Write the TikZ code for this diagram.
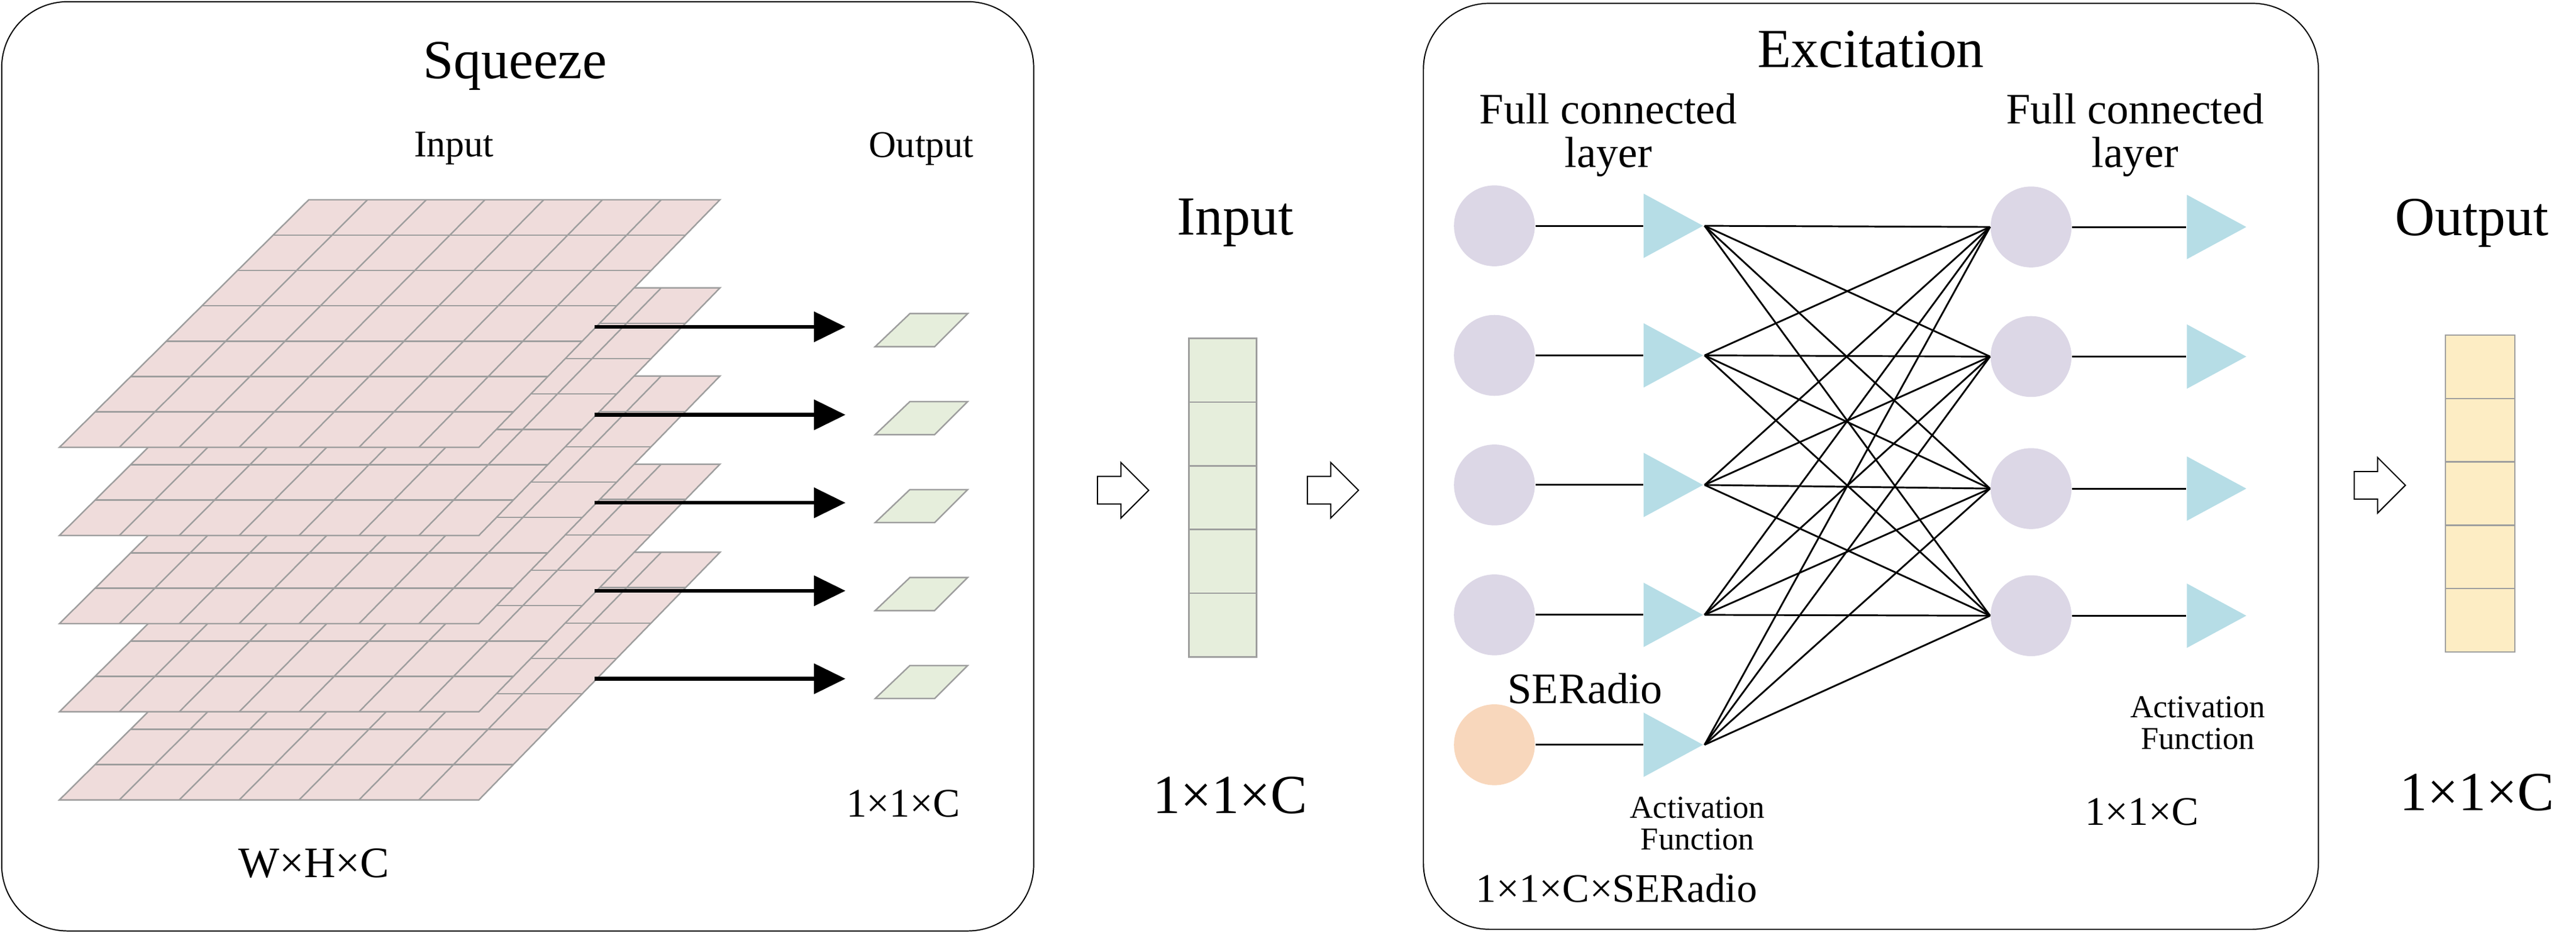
\documentclass[tikz,border=0pt]{standalone}
\usepackage{fontspec}
\setmainfont{Liberation Serif}
\usepackage{tikz}
\usetikzlibrary{positioning,calc}
\usetikzlibrary{shapes,shapes.geometric,shapes.arrows,arrows.meta}
\definecolor{mappink}{HTML}{EFDCDB}
\definecolor{vecgreen}{HTML}{E6EEDC}
\definecolor{neurlav}{HTML}{DCD7E6}
\definecolor{neurorange}{HTML}{F8D7BC}
\definecolor{actcyan}{HTML}{B6DDE6}
\definecolor{vecyellow}{HTML}{FDEDC4}
\newcommand{\fs}[1]{\fontsize{#1}{#1}\selectfont}

\begin{document}
\begin{tikzpicture}[x=0.02cm,y=-0.02cm]
\tikzstyle{frame}=[draw=black, rounded corners=0.8cm]
\tikzstyle{grid}=[draw=black!38, line width=0.5pt]
\tikzstyle{neuron}=[circle, minimum size=0.98cm, inner sep=0, fill=neurlav]
\tikzstyle{act}=[isosceles triangle, isosceles triangle stretches, minimum height=0.72cm, minimum width=0.78cm, inner sep=0, fill=actcyan, anchor=west]
\tikzstyle{hollow}=[single arrow, draw=black, fill=white, minimum height=0.62cm, inner sep=0.16cm, single arrow head extend=0.17cm, single arrow head indent=0]
\tikzstyle{connect}=[-{Triangle[length=0.38cm,width=0.36cm]}, line width=1.3pt]
\tikzstyle{link}=[line width=0.6pt]
\useasboundingbox (0,0) rectangle (1560,565);
% frames
\draw[frame] (1,1) rectangle (626,564);
\draw[frame] (862,2) rectangle (1404,563);
% squeeze part
\node (sq) at (312,40) {\fs{19}Squeeze};
\node (inlab) at (275,90) {\fs{13}Input};
\node (outlab) at (558,90) {\fs{13}Output};
\node (sqc) at (547,487) {\fs{14}1×1×C};
\node (whc) at (190,523) {\fs{15}W×H×C};
\foreach \k in {4,3,2,1,0}{
  \coordinate (tl\k) at (187,121+53.4*\k);
  \coordinate (tr\k) at (436,121+53.4*\k);
  \coordinate (br\k) at (290,271+53.4*\k);
  \coordinate (bl\k) at (36,271+53.4*\k);
  \fill[mappink] (tl\k) -- (tr\k) -- (br\k) -- (bl\k) -- cycle;
  \foreach \t in {1,...,6}{
    \draw[grid] ($(tl\k)!\t/7!(bl\k)$) -- ($(tr\k)!\t/7!(br\k)$);
    \draw[grid] ($(tl\k)!\t/7!(tr\k)$) -- ($(bl\k)!\t/7!(br\k)$);
  }
  \draw[grid] (tl\k) -- (tr\k) -- (br\k) -- (bl\k) -- cycle;
}
\foreach \k in {0,...,4}{
  \coordinate (a\k) at (360,198+53.3*\k);
  \coordinate (b\k) at (512,198+53.3*\k);
  \draw[connect] (a\k) -- (b\k);
  \draw[grid, fill=vecgreen] (530,210+53.3*\k) -- (551,190+53.3*\k) -- (586,190+53.3*\k) -- (566,210+53.3*\k) -- cycle;
}
% input vector
\node (invec) at (748,135) {\fs{19}Input};
\node (inc) at (745,482) {\fs{19}1×1×C};
\foreach \k in {0,...,4}
  \draw[grid, fill=vecgreen] (720,205+38.6*\k) rectangle (761,243.6+38.6*\k);
\node[hollow] (h1) at (676,297) {};
\node[hollow] (h2) at (803,297) {};
% excitation part
\node (ex) at (1133,30) {\fs{19}Excitation};
\node[align=center, font=\fs{15}] (fc1) at (974,82) {Full connected\\layer};
\node[align=center, font=\fs{15}] (fc2) at (1293,82) {Full connected\\layer};
\foreach \i/\y in {1/136.8,2/215.3,3/293.8,4/372.5,5/451.2}{
  \node[act] (l\i) at (995,\y) {};
}
\foreach \i/\y in {1/136.8,2/215.3,3/293.8,4/372.5}
  \node[neuron] (c\i) at (905,\y) {};
\node[neuron, fill=neurorange] (c5) at (905,451.2) {};
\foreach \j/\y in {1/137.5,2/216,3/296,4/373}{
  \node[neuron] (r\j) at (1230,\y) {};
  \node[act] (t\j) at (1324,\y) {};
  \draw[link] (r\j.east) -- (t\j.west);
}
\foreach \i in {1,...,5}{
  \draw[link] (c\i.east) -- (l\i.west);
  \foreach \j in {1,...,4}
    \draw[link] (l\i.apex) -- (r\j.west);
}
\node (ser) at (960,417) {\fs{15}SERadio};
\node[align=center, font=\fs{11}] (af1) at (1028,499) {Activation\\Function};
\node[align=center, font=\fs{11}] (af2) at (1331,438) {Activation\\Function};
\node (exc) at (1297,492) {\fs{14}1×1×C};
\node (sec) at (979,538) {\fs{14}1×1×C×SERadio};
% output vector
\node (outvec) at (1497,135) {\fs{19}Output};
\node (outc) at (1500,480) {\fs{19}1×1×C};
\foreach \k in {0,...,4}
  \draw[grid, fill=vecyellow] (1481,203+38.4*\k) rectangle (1523,241.4+38.4*\k);
\node[hollow] (h3) at (1437,294) {};
\end{tikzpicture}
\end{document}
